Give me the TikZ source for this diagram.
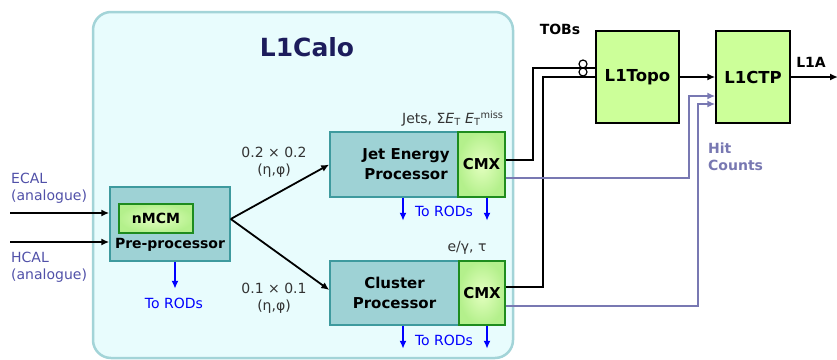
\documentclass[tikz,border=0pt]{standalone}
\usepackage{fontspec}
\setmainfont{DejaVu Sans}
\usepackage{xcolor}
\usetikzlibrary{arrows.meta, positioning, calc}

\definecolor{calofill}{HTML}{E8FCFD}
\definecolor{caloedge}{HTML}{A3D4D8}
\definecolor{tealfill}{HTML}{9ED2D5}
\definecolor{tealedge}{HTML}{3E9A9E}
\definecolor{cmxedge}{HTML}{1E8C1E}
\definecolor{cmxin}{HTML}{E4FFC0}
\definecolor{cmxout}{HTML}{B4F08C}
\definecolor{topofill}{HTML}{CCFF99}
\definecolor{hitline}{HTML}{7878B2}
\definecolor{calinput}{HTML}{5050A8}
\definecolor{titlecol}{HTML}{1C1C5C}

\begin{document}
\begin{tikzpicture}[
x=1pt, y=-1pt,
every node/.style={font=\fontsize{14}{17}\selectfont, inner sep=0pt},
bold/.style={font=\fontsize{14}{17}\selectfont\bfseries},
calo/.style={draw=caloedge, fill=calofill, line width=2.5pt, rounded corners=18pt, minimum width=420pt, minimum height=346pt},
box/.style={draw=tealedge, fill=tealfill, line width=1.5pt, minimum height=65pt, align=center, font=\fontsize{15}{20}\selectfont\bfseries},
cmx/.style={draw=cmxedge, line width=1.5pt, inner color=cmxin, outer color=cmxout, font=\fontsize{15}{17}\selectfont\bfseries},
trig/.style={draw=black, fill=topofill, line width=1.5pt, minimum width=83pt, minimum height=92pt, font=\fontsize{16.5}{18}\selectfont\bfseries},
sig/.style={line width=1.8pt, -{Latex[length=8pt,width=7pt]}},
rod/.style={blue, line width=1.8pt, -{Latex[length=8pt,width=7pt]}},
hit/.style={hitline, line width=2pt, -{Latex[length=8pt,width=7pt]}},
lbl/.style={text=black!80, align=center}
]
\useasboundingbox (0,0) rectangle (837,359);

\node[calo] (calo) at (303,185) {};
\node[font=\fontsize{25}{27}\selectfont\bfseries, text=titlecol] (title) at (307,47) {L1Calo};

\node[box, minimum width=120pt, minimum height=74pt] (pre) at (170,224) {};
\node[cmx, minimum width=74pt, minimum height=29pt, font=\fontsize{14}{16}\selectfont\bfseries] (nmcm) at (156,218.5) {nMCM};
\node[bold] (prelbl) at (170,245) {Pre-processor};

\node[box, minimum width=128pt] (jep) at (394,164.5) {};
\node[font=\fontsize{15}{20}\selectfont\bfseries, align=center] (jeplbl) at (406,164.5) {Jet Energy\\Processor};
\node[cmx, minimum width=47pt, minimum height=65pt] (cmxj) at (481.5,164.5) {CMX};

\node[box, minimum width=129pt, minimum height=64pt] (cp) at (394.5,293) {Cluster\\Processor};
\node[cmx, minimum width=46pt, minimum height=64pt] (cmxc) at (482,293) {CMX};

\node[trig] (topo) at (637.5,77) {L1Topo};
\node[trig, minimum width=74pt] (ctp) at (753,77) {L1CTP};

\node[lbl, anchor=base east] (jetobj) at ([xshift=-2pt,yshift=8pt]cmxj.north east) {Jets, Σ\textit{E}\textsubscript{T} \textit{E}\textsubscript{T}\textsuperscript{miss}};
\node[lbl, anchor=base] (emobj) at ([xshift=-15pt,yshift=9pt]cmxc.north) {e/γ, τ};
\node[lbl] (jetgran) at (274,162) {0.2 × 0.2\\(η,φ)};
\node[lbl] (emgran) at (274,298) {0.1 × 0.1\\(η,φ)};
\node[align=left, text=calinput, anchor=west] (ecal) at (11,188) {ECAL\\(analogue)};
\node[align=left, text=calinput, anchor=west] (hcal) at (11,267) {HCAL\\(analogue)};
\node[bold] (tobs) at (560,29) {TOBs};
\node[bold] (l1a) at (811,62) {L1A};
\node[bold, text=hitline, align=left, anchor=west] (hits) at (708,157) {Hit\\Counts};

\node[text=blue] (prerod) at (174,303) {To RODs};
\node[text=blue] (jeprod) at (444,211) {To RODs};
\node[text=blue] (cprod) at (444,340) {To RODs};

\coordinate (ecalin) at (10,213);
\coordinate (hcalin) at (10,242);
\coordinate (l1aout) at (838,77);

\draw[sig] (ecalin) -- (ecalin -| pre.west);
\draw[sig] (hcalin) -- (hcalin -| pre.west);
\draw[sig] ([yshift=5pt]pre.east) -- (jep.west);
\draw[sig] ([yshift=5pt]pre.east) -- ([yshift=3pt]cp.west);

\draw[rod] ([xshift=5pt]pre.south) -- ++(0,27);
\draw[rod] ([xshift=9pt]jep.south) -- ++(0,23);
\draw[rod] ([xshift=5.5pt]cmxj.south) -- ++(0,23);
\draw[rod] ([xshift=8.5pt]cp.south) -- ++(0,23);
\draw[rod] ([xshift=5pt]cmxc.south) -- ++(0,23);

\draw[line width=1.5pt] ([yshift=4.5pt]cmxj.east) -- ++(27,0) |- ([yshift=9pt]topo.west);
\draw[line width=1.5pt] ([yshift=6pt]cmxc.east) -- ++(37,0) |- (topo.west);
\draw[line width=1.2pt] (583,64) circle (4pt) (583,72) circle (4pt);

\draw[hit] ([yshift=-13.5pt]cmxj.east) -- ++(183,0) |- ([yshift=-19pt]ctp.west);
\draw[hit] ([yshift=-13pt]cmxc.east) -- ++(192,0) |- ([yshift=-27pt]ctp.west);

\draw[sig] (topo) -- (ctp);
\draw[sig] (ctp) -- (l1aout);

\end{tikzpicture}
\end{document}
